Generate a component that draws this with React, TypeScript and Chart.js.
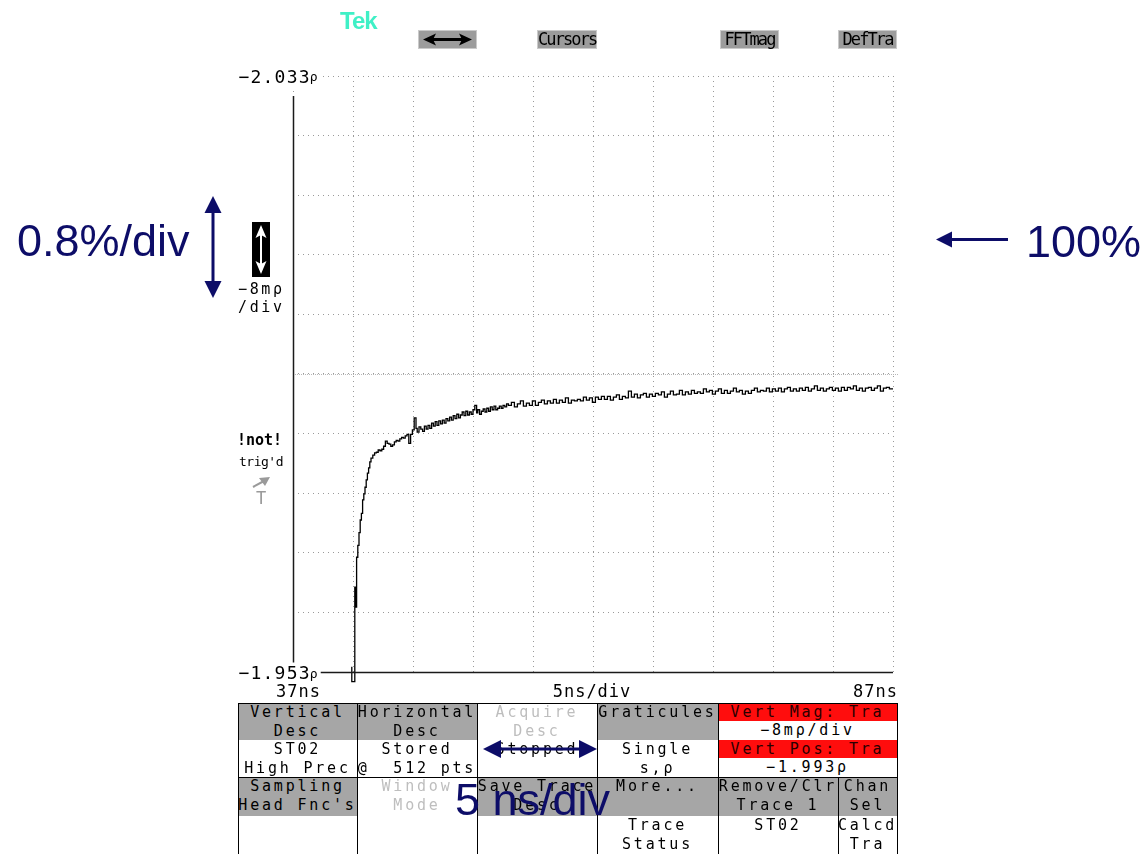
import React, { useEffect, useRef } from 'react';
import { Chart, registerables } from 'chart.js';

Chart.register(...registerables);

// Horizontal record window (ns) and time per division
const timeWindowNs = [37, 87];
const timePerDivNs = 5;
// Vertical window (ρ): screen top and bottom, size per division, vertical position
const rhoWindow = [-2.033, -1.953];
const rhoPerDiv = 0.008;
const vertPosRho = -1.993;

// Edge labels of the graticule
const yEdgeLabels = ['−2.033', '−1.953'];
const xEdgeLabels = ['37ns', '5ns/div', '87ns'];

// Stored TDR step response (time in ns, reflection coefficient ρ)
const traceNs = [
  41.9, 41.95, 42.15, 42.2, 42.3, 42.4, 42.5, 42.6, 42.7, 42.8,
  42.9, 43.0, 43.1, 43.2, 43.3, 43.4, 43.5, 43.65, 43.8, 43.95,
  44.1, 44.25, 44.4, 44.55, 44.7, 44.85, 45.0, 45.15, 45.3, 45.45,
  45.6, 45.75, 45.9, 46.05, 46.2, 46.35, 46.5, 46.65, 46.8, 46.95,
  47.1, 47.25, 47.35, 47.5, 47.65, 47.8, 47.95, 48.1, 48.25, 48.4,
  48.55, 48.7, 48.85, 49.0, 49.15, 49.3, 49.45, 49.6, 49.75, 49.9,
  50.05, 50.2, 50.35, 50.5, 50.65, 50.8, 50.95, 51.1, 51.25, 51.4,
  51.55, 51.7, 51.85, 52.0, 52.15, 52.3, 52.4, 52.55, 52.7, 52.85,
  53.0, 53.15, 53.3, 53.45, 53.6, 53.75, 53.9, 54.05, 54.2, 54.35,
  54.5, 54.65, 54.8, 54.95,
  55.2, 55.45, 55.7, 55.95, 56.2, 56.45, 56.7, 56.95,
  57.2, 57.45, 57.7, 57.95, 58.2, 58.45, 58.7, 58.95,
  59.2, 59.45, 59.7, 59.95, 60.2, 60.45, 60.7, 60.95,
  61.2, 61.45, 61.7, 61.95, 62.2, 62.45, 62.7, 62.95,
  63.2, 63.45, 63.7, 63.95, 64.2, 64.45, 64.7, 64.95,
  65.2, 65.45, 65.7, 65.95, 66.2, 66.45, 66.7, 66.95,
  67.2, 67.45, 67.7, 67.95, 68.2, 68.45, 68.7, 68.95,
  69.2, 69.45, 69.7, 69.95, 70.2, 70.45, 70.7, 70.95,
  71.2, 71.45, 71.7, 71.95, 72.2, 72.45, 72.7, 72.95,
  73.2, 73.45, 73.7, 73.95, 74.2, 74.45, 74.7, 74.95,
  75.2, 75.45, 75.7, 75.95, 76.2, 76.45, 76.7, 76.95,
  77.2, 77.45, 77.7, 77.95, 78.2, 78.45, 78.7, 78.95,
  79.2, 79.45, 79.7, 79.95, 80.2, 80.45, 80.7, 80.95,
  81.2, 81.45, 81.7, 81.95, 82.2, 82.45, 82.7, 82.95,
  83.2, 83.45, 83.7, 83.95, 84.2, 84.45, 84.7, 84.95,
  85.2, 85.45, 85.7, 85.95, 86.2, 86.45, 86.7, 87.0,
];

const traceRho = [
  -1.9537, -1.9517, -1.9517, -1.9644, -1.9617, -1.9684, -1.9700, -1.9717, -1.9734, -1.9743,
  -1.9761, -1.9769, -1.9778, -1.9788, -1.9797, -1.9804, -1.9812, -1.9817, -1.9821, -1.9824,
  -1.9825, -1.9828, -1.9827, -1.9829, -1.9833, -1.9840, -1.9837, -1.9836, -1.9833, -1.9835,
  -1.9839, -1.9841, -1.9840, -1.9843, -1.9845, -1.9844, -1.9847, -1.9849, -1.9837, -1.9849,
  -1.9855, -1.9871, -1.9857, -1.9852, -1.9859, -1.9856, -1.9853, -1.9860, -1.9856, -1.9861,
  -1.9857, -1.9864, -1.9860, -1.9866, -1.9861, -1.9867, -1.9863, -1.9868, -1.9864, -1.9870,
  -1.9867, -1.9872, -1.9868, -1.9874, -1.9870, -1.9876, -1.9871, -1.9875, -1.9879, -1.9874,
  -1.9880, -1.9875, -1.9879, -1.9876, -1.9882, -1.9888, -1.9878, -1.9882, -1.9876, -1.9880,
  -1.9883, -1.9879, -1.9884, -1.9880, -1.9886, -1.9882, -1.9887, -1.9882, -1.9884, -1.9887,
  -1.9884, -1.9888, -1.9886, -1.9890,
  -1.9888, -1.9892, -1.9886, -1.9890, -1.9894, -1.9887, -1.9891, -1.9888,
  -1.9894, -1.9888, -1.9892, -1.9895, -1.9890, -1.9894, -1.9891, -1.9896,
  -1.9891, -1.9895, -1.9892, -1.9898, -1.9891, -1.9895, -1.9894, -1.9896,
  -1.9894, -1.9899, -1.9895, -1.9898, -1.9892, -1.9899, -1.9896, -1.9900,
  -1.9896, -1.9900, -1.9895, -1.9899, -1.9902, -1.9896, -1.9900, -1.9898,
  -1.9907, -1.9899, -1.9903, -1.9898, -1.9902, -1.9904, -1.9899, -1.9903,
  -1.9900, -1.9904, -1.9902, -1.9906, -1.9899, -1.9903, -1.9907, -1.9902,
  -1.9903, -1.9908, -1.9902, -1.9906, -1.9903, -1.9908, -1.9904, -1.9906,
  -1.9904, -1.9910, -1.9906, -1.9908, -1.9903, -1.9907, -1.9910, -1.9904,
  -1.9908, -1.9904, -1.9907, -1.9911, -1.9906, -1.9908, -1.9903, -1.9907,
  -1.9904, -1.9908, -1.9911, -1.9906, -1.9908, -1.9907, -1.9911, -1.9906,
  -1.9910, -1.9907, -1.9911, -1.9906, -1.9910, -1.9912, -1.9907, -1.9910,
  -1.9907, -1.9911, -1.9908, -1.9912, -1.9907, -1.9910, -1.9914, -1.9908,
  -1.9911, -1.9907, -1.9910, -1.9912, -1.9908, -1.9911, -1.9907, -1.9912,
  -1.9908, -1.9912, -1.9910, -1.9914, -1.9908, -1.9911, -1.9907, -1.9911,
  -1.9912, -1.9908, -1.9911, -1.9914, -1.9907, -1.9911, -1.9912, -1.9910,
];

const MONO = '"DejaVu Sans Mono", "Liberation Mono", monospace';
const SANS = '"Liberation Sans", Arial, sans-serif';
const NAVY = '#0d0d68';
const MENU_GRAY = '#a6a6a6';
const MENU_RED = '#ff0d0d';
const DIM = '#bebebe';

// Edge label with a small ρ unit, knocked out of the graticule lines
function drawRhoLabel(ctx: any, text: string, x: number, yMid: number) {
  ctx.font = `18px ${MONO}`;
  ctx.letterSpacing = '1.2px';
  const w = ctx.measureText(text).width;
  ctx.fillStyle = '#fff';
  ctx.fillRect(x - 2, yMid - 10, w + 12, 21);
  ctx.fillStyle = '#000';
  ctx.textAlign = 'left';
  ctx.textBaseline = 'alphabetic';
  ctx.fillText(text, x, yMid + 6.5);
  ctx.font = `13px ${MONO}`;
  ctx.letterSpacing = '0px';
  ctx.fillText('ρ', x + w - 1, yMid + 5);
}

const scopeScreen = {
  id: 'scopeScreen',
  beforeDatasetsDraw(chart: any) {
    const { ctx, chartArea: a, scales } = chart;
    const yc = Math.round(scales.y.getPixelForValue(vertPosRho)) + 0.5;
    ctx.save();
    ctx.strokeStyle = '#b8b8b8';
    ctx.lineWidth = 1;
    ctx.setLineDash([1, 1]);
    ctx.beginPath();
    ctx.moveTo(a.left, yc);
    ctx.lineTo(a.right + 6, yc);
    ctx.stroke();
    ctx.restore();
  },
  afterDatasetsDraw(chart: any) {
    const { ctx, chartArea: a, scales } = chart;
    const x0 = Math.round(scales.x.getPixelForValue(timeWindowNs[0])) + 0.5;
    const xMid = scales.x.getPixelForValue((timeWindowNs[0] + timeWindowNs[1]) / 2);
    const x1 = scales.x.getPixelForValue(timeWindowNs[1]);
    const yTop = scales.y.getPixelForValue(rhoWindow[0]);
    const yBot = Math.round(scales.y.getPixelForValue(rhoWindow[1])) + 0.5;
    ctx.save();
    ctx.strokeStyle = '#1a1a1a';
    ctx.lineWidth = 1.5;
    ctx.beginPath();
    ctx.moveTo(x0, yTop + 20);
    ctx.lineTo(x0, yBot);
    ctx.lineTo(a.right, yBot);
    ctx.stroke();

    drawRhoLabel(ctx, yEdgeLabels[0], x0 - 55, yTop);
    drawRhoLabel(ctx, yEdgeLabels[1], x0 - 55, yBot);

    ctx.font = `17px ${MONO}`;
    ctx.letterSpacing = '1px';
    ctx.fillStyle = '#000';
    ctx.textBaseline = 'alphabetic';
    const yl = yBot + 24;
    ctx.textAlign = 'center';
    ctx.fillText(xEdgeLabels[0], x0 + 5, yl);
    ctx.fillText(xEdgeLabels[1], xMid - 1, yl);
    ctx.textAlign = 'right';
    ctx.fillText(xEdgeLabels[2], x1 + 5, yl);
    ctx.restore();
  },
};

function ScopeCanvas() {
  const ref = useRef<HTMLCanvasElement>(null);
  useEffect(() => {
    if (!ref.current) return;
    const grid = { color: '#9a9a9a', lineWidth: 1, drawTicks: false };
    const border = { display: false, dash: [1, 4] };
    const chart = new Chart(ref.current, {
      type: 'line',
      data: {
        datasets: [
          {
            data: traceNs.map((t, i) => ({ x: t, y: traceRho[i] })),
            borderColor: '#000',
            borderWidth: 1.3,
            pointRadius: 0,
            stepped: 'after',
            fill: false,
            clip: { left: 0, top: 0, right: 8, bottom: 14 },
          },
        ],
      },
      options: {
        animation: false,
        responsive: false,
        devicePixelRatio: 1,
        events: [],
        layout: { padding: { left: 293, top: 76, right: 251, bottom: 182 } },
        plugins: { legend: { display: false }, tooltip: { enabled: false } },
        scales: {
          x: {
            type: 'linear',
            min: timeWindowNs[0],
            max: timeWindowNs[1],
            ticks: { display: false, stepSize: timePerDivNs },
            grid,
            border,
            afterFit: (s: any) => { s.height = 0; },
          },
          y: {
            type: 'linear',
            reverse: true,
            min: rhoWindow[0],
            max: rhoWindow[1],
            ticks: { display: false, stepSize: rhoPerDiv },
            grid,
            border,
            afterFit: (s: any) => { s.width = 0; },
          },
        },
      } as any,
      plugins: [scopeScreen],
    });
    return () => chart.destroy();
  }, []);
  return (
    <canvas
      ref={ref}
      width={1144}
      height={854}
      style={{ position: 'absolute', left: 0, top: 0, width: 1144, height: 854 }}
    />
  );
}

function Text({ x, y, size, children, color = '#000', bold = false, spacing = 0, lh }: any) {
  return (
    <div
      style={{
        position: 'absolute', left: x, top: y, fontFamily: MONO, fontSize: size,
        fontWeight: bold ? 'bold' : 'normal', color, letterSpacing: spacing,
        lineHeight: `${lh ?? size + 5}px`, whiteSpace: 'pre',
      }}
    >
      {children}
    </div>
  );
}

function SoftKey({ x, w, children }: any) {
  return (
    <div
      style={{
        position: 'absolute', left: x, top: 30, width: w, height: 19, boxSizing: 'border-box',
        background: '#9c9c9c', border: '1px solid #cacaca', fontFamily: MONO, fontSize: 17,
        letterSpacing: '-1.9px', lineHeight: '17px', textAlign: 'center', color: '#000',
        whiteSpace: 'pre', overflow: 'visible',
      }}
    >
      {children}
    </div>
  );
}

function MenuCell({ x, y, w, h, bg, lines, color = '#000' }: any) {
  return (
    <div
      style={{
        position: 'absolute', left: x, top: y, width: w, height: h, background: bg, color,
        fontFamily: MONO, fontSize: 15, lineHeight: '19px', letterSpacing: '2.8px',
        textAlign: 'center', whiteSpace: 'pre',
      }}
    >
      {lines.map((t: string, i: number) => (
        <div key={i} style={{ height: 19 }}>{t}</div>
      ))}
    </div>
  );
}

function Menu() {
  const C = [238, 357, 477, 597, 718, 838, 897];
  const R = [703, 740, 777, 816, 854];
  const cells = [
    { c: 0, r: 0, bg: MENU_GRAY, lines: ['Vertical', 'Desc'] },
    { c: 0, r: 1, bg: '#fff', lines: ['ST02', 'High Prec'] },
    { c: 1, r: 0, bg: MENU_GRAY, lines: ['Horizontal', 'Desc'] },
    { c: 1, r: 1, bg: '#fff', lines: ['Stored', '@  512 pts'] },
    { c: 2, r: 0, bg: '#fff', lines: ['Acquire', 'Desc'], color: DIM },
    { c: 2, r: 1, bg: '#fff', lines: ['Stopped'] },
    { c: 3, r: 0, bg: MENU_GRAY, lines: ['Graticules'] },
    { c: 3, r: 1, bg: '#fff', lines: ['Single', 's,ρ'] },
    { c: 0, r: 2, bg: MENU_GRAY, lines: ['Sampling', "Head Fnc's"] },
    { c: 0, r: 3, bg: '#fff', lines: [] },
    { c: 1, r: 2, bg: '#fff', lines: ['Window', 'Mode'], color: DIM },
    { c: 1, r: 3, bg: '#fff', lines: [] },
    { c: 2, r: 2, bg: MENU_GRAY, lines: ['Save Trace', 'Desc'] },
    { c: 2, r: 3, bg: '#fff', lines: [] },
    { c: 3, r: 2, bg: MENU_GRAY, lines: ['More...'] },
    { c: 3, r: 3, bg: '#fff', lines: ['Trace', 'Status'] },
    { c: 4, r: 2, bg: MENU_GRAY, lines: ['Remove/Clr', 'Trace 1'] },
    { c: 4, r: 3, bg: '#fff', lines: ['ST02'] },
    { c: 5, r: 2, bg: MENU_GRAY, lines: ['Chan', 'Sel'] },
    { c: 5, r: 3, bg: '#fff', lines: ['Calcd', 'Tra'] },
  ];
  const vert = [
    { x: C[4], y: 703, h: 18, bg: MENU_RED, t: 'Vert Mag: Tra', color: '#2a0000' },
    { x: C[4], y: 721, h: 19, bg: '#fff', t: '−8mρ/div', color: '#000' },
    { x: C[4], y: 740, h: 18, bg: MENU_RED, t: 'Vert Pos: Tra', color: '#2a0000' },
    { x: C[4], y: 758, h: 19, bg: '#fff', t: '−1.993ρ', color: '#000' },
  ];
  const vLines = [
    { x: C[0], y0: R[0], y1: R[4] },
    { x: C[1], y0: R[0], y1: R[4] },
    { x: C[2], y0: R[0], y1: R[4] },
    { x: C[3], y0: R[0], y1: R[4] },
    { x: C[4], y0: R[0], y1: R[4] },
    { x: C[5], y0: R[2], y1: R[4] },
    { x: C[6], y0: R[0], y1: R[4] },
  ];
  return (
    <>
      {cells.map((k, i) => (
        <MenuCell
          key={i}
          x={C[k.c]}
          y={R[k.r]}
          w={C[k.c + 1] - C[k.c]}
          h={R[k.r + 1] - R[k.r]}
          bg={k.bg}
          lines={k.lines}
          color={k.color}
        />
      ))}
      {vert.map((v, i) => (
        <MenuCell key={'v' + i} x={v.x} y={v.y} w={C[6] - C[4]} h={v.h} bg={v.bg} lines={[v.t]} color={v.color} />
      ))}
      {vLines.map((l, i) => (
        <div key={'l' + i} style={{ position: 'absolute', left: l.x, top: l.y0, width: 1, height: l.y1 - l.y0, background: '#000' }} />
      ))}
      <div style={{ position: 'absolute', left: C[0], top: R[0], width: C[6] - C[0] + 1, height: 1, background: '#000' }} />
      <div style={{ position: 'absolute', left: C[0], top: R[2], width: C[6] - C[0] + 1, height: 1, background: '#000' }} />
    </>
  );
}

function Arrows() {
  return (
    <svg width={1144} height={854} style={{ position: 'absolute', left: 0, top: 0, pointerEvents: 'none' }}>
      {/* soft-key double arrow */}
      <line x1={432} y1={39.5} x2={463} y2={39.5} stroke="#000" strokeWidth={3} />
      <polygon points="423,39.5 436,33.5 433,39.5 436,45.5" fill="#000" />
      <polygon points="472,39.5 459,33.5 462,39.5 459,45.5" fill="#000" />
      {/* vertical-size icon */}
      <rect x={252} y={222} width={18} height={55} fill="#000" />
      <line x1={261} y1={232} x2={261} y2={267} stroke="#fff" strokeWidth={2} />
      <polygon points="261,225 255.5,238 261,235 266.5,238" fill="#fff" />
      <polygon points="261,274 255.5,261 261,264 266.5,261" fill="#fff" />
      {/* trigger arrow */}
      <line x1={253} y1={487} x2={264} y2={481} stroke="#9a9a9a" strokeWidth={2} />
      <polygon points="270,477 259,478 265,486" fill="#9a9a9a" />
      {/* 0.8%/div marker */}
      <line x1={213} y1={208} x2={213} y2={286} stroke={NAVY} strokeWidth={3} />
      <polygon points="213,196 204.5,213 221.5,213" fill={NAVY} />
      <polygon points="213,298 204.5,281 221.5,281" fill={NAVY} />
      {/* 100% pointer */}
      <line x1={946} y1={239.5} x2={1008} y2={239.5} stroke={NAVY} strokeWidth={3} />
      <polygon points="936,239.5 952,231.5 952,247.5" fill={NAVY} />
      {/* 5 ns/div marker */}
      <line x1={496} y1={749} x2={584} y2={749} stroke={NAVY} strokeWidth={3} />
      <polygon points="483,749 501,740 501,758" fill={NAVY} />
      <polygon points="597,749 579,740 579,758" fill={NAVY} />
    </svg>
  );
}

export default function App() {
  return (
    <div style={{ position: 'absolute', left: 0, top: 0, width: 1144, height: 854, background: '#fff', overflow: 'hidden' }}>
      <ScopeCanvas />

      {/* Tek logo and soft keys */}
      <div
        style={{
          position: 'absolute', left: 340, top: 9, fontFamily: SANS, fontWeight: 'bold', fontSize: 24,
          lineHeight: '24px', color: '#3ff0c6', letterSpacing: '-1px',
        }}
      >
        Tek
      </div>
      <SoftKey x={418} w={59}>{''}</SoftKey>
      <SoftKey x={537} w={60}>Cursors</SoftKey>
      <SoftKey x={720} w={59}>FFTmag</SoftKey>
      <SoftKey x={838} w={59}>DefTra</SoftKey>

      {/* Left-hand status readouts */}
      <Text x={238} y={280} size={15} spacing="2.6px" lh={19}>−8mρ</Text>
      <Text x={238} y={298} size={15} spacing="2.6px" lh={19}>/div</Text>
      <Text x={237} y={431} size={15} bold lh={19}>!not!</Text>
      <Text x={239} y={453} size={13} spacing="-0.5px" lh={18}>trig'd</Text>
      <Text x={256} y={488} size={17} color="#9a9a9a" lh={20}>T</Text>

      <Menu />
      <Arrows />

      {/* Scale annotations */}
      <div style={{ position: 'absolute', left: 17, top: 218, fontFamily: SANS, fontSize: 45, lineHeight: '45px', color: NAVY, whiteSpace: 'pre' }}>
        0.8%/div
      </div>
      <div style={{ position: 'absolute', left: 1026, top: 219, fontFamily: SANS, fontSize: 45, lineHeight: '45px', color: NAVY, whiteSpace: 'pre' }}>
        100%
      </div>
      <div style={{ position: 'absolute', left: 455, top: 777, fontFamily: SANS, fontSize: 45, lineHeight: '45px', color: NAVY, whiteSpace: 'pre' }}>
        5 ns/div
      </div>
    </div>
  );
}
